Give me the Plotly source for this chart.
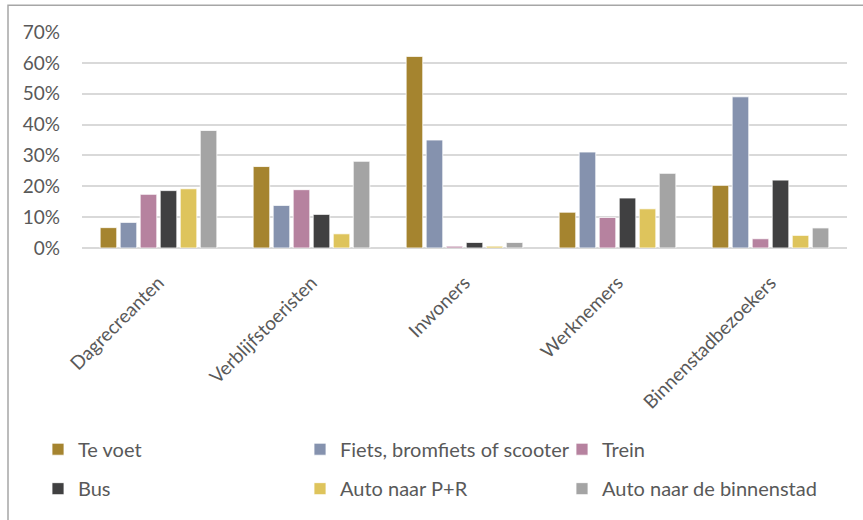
import plotly.graph_objects as go

# Visitor groups on the x axis
groups = ["Dagrecreanten", "Verblijfstoeristen", "Inwoners", "Werknemers", "Binnenstadbezoekers"]

# Share of each travel mode per group (fractions)
te_voet = [0.066, 0.264, 0.621, 0.116, 0.203]
fiets = [0.083, 0.138, 0.350, 0.311, 0.490]
trein = [0.174, 0.189, 0.006, 0.099, 0.030]
bus = [0.186, 0.109, 0.018, 0.162, 0.220]
auto_pr = [0.192, 0.046, 0.006, 0.127, 0.041]
auto_binnenstad = [0.381, 0.281, 0.018, 0.242, 0.065]

series = [
    ("Te voet", te_voet, "#A5842F", "legend"),
    ("Fiets, bromfiets of scooter", fiets, "#8592AE", "legend"),
    ("Trein", trein, "#B6829F", "legend"),
    ("Bus", bus, "#404041", "legend2"),
    ("Auto naar P+R", auto_pr, "#DEC45C", "legend2"),
    ("Auto naar de binnenstad", auto_binnenstad, "#A4A4A4", "legend2"),
]

FONT = "Lato"
GREY_TXT = "#595959"

fig = go.Figure()
for name, vals, color, leg in series:
    fig.add_trace(go.Bar(
        name=name, x=groups, y=vals,
        marker=dict(color=color, line=dict(color="white", width=0.8)),
        legend=leg,
    ))

W, H = 863, 520
ML, MR, MT, MB = 82, 16, 32, 269
pw, ph = W - ML - MR, H - MT - MB

def px_x(p):
    return (p - ML) / pw

def px_y(p):
    return (H - MB - p) / ph

legend_common = dict(
    orientation="h", xref="paper", yref="paper",
    xanchor="left", yanchor="middle",
    font=dict(family=FONT, size=20, color=GREY_TXT),
    entrywidth=217, entrywidthmode="pixels",
    bgcolor="rgba(0,0,0,0)", itemclick=False, itemdoubleclick=False,
)

fig.update_layout(
    width=W, height=H,
    margin=dict(l=ML, r=MR, t=MT, b=MB),
    paper_bgcolor="white", plot_bgcolor="white",
    barmode="group", bargap=0.215, bargroupgap=0.17,
    font=dict(family=FONT, color=GREY_TXT),
    legend=dict(x=px_x(38), y=px_y(455), **legend_common),
    legend2=dict(x=px_x(38), y=px_y(495), **legend_common),
    xaxis=dict(
        tickangle=-45, tickfont=dict(family=FONT, size=19, color=GREY_TXT),
        showline=False, showgrid=False, ticks="", ticklabelstandoff=19,
    ),
    yaxis=dict(
        range=[0, 0.7], dtick=0.1, tickformat=".0%",
        tickfont=dict(family=FONT, size=19, color=GREY_TXT),
        showgrid=True, gridcolor="#D9D9D9", gridwidth=1.5,
        zeroline=True, zerolinecolor="#D9D9D9", zerolinewidth=1.5,
        showline=False, ticks="", ticklabelstandoff=21,
    ),
    shapes=[dict(
        type="rect", xref="paper", yref="paper",
        x0=px_x(8), x1=px_x(W + 20), y0=px_y(H + 20), y1=px_y(5),
        line=dict(color="#A6A6A6", width=1.5), fillcolor="rgba(0,0,0,0)",
        layer="below",
    )],
)

fig.write_html("out.html")
